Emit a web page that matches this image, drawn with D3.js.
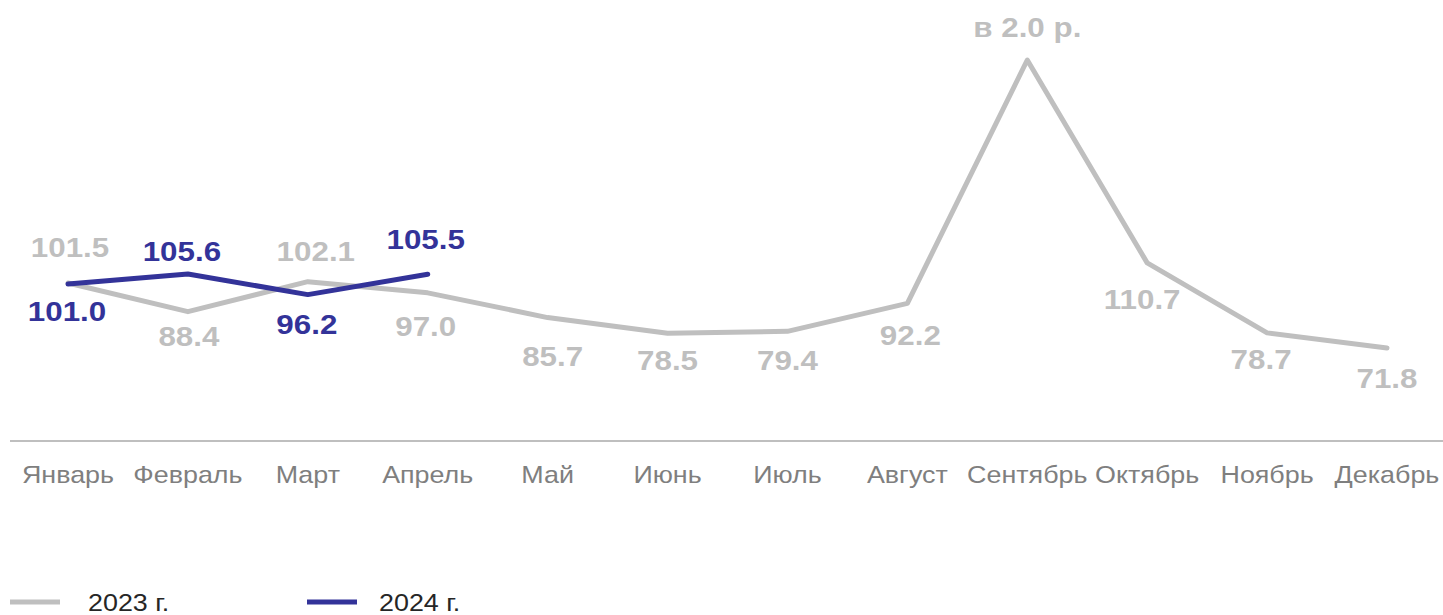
<!DOCTYPE html>
<meta charset="utf-8">
<head>
<script src="https://cdn.jsdelivr.net/npm/d3@7"></script>
<style>
body { margin: 0; background: #fff; }
text { font-family: "Liberation Sans", Arial, sans-serif; }
.lbl { font-weight: bold; font-size: 28px; }
.month { font-size: 24px; fill: #7f7f7f; }
.legend text { font-size: 24px; fill: #262626; }
</style>
</head>
<body>
<script>

// данные
var months = ["Январь", "Февраль", "Март", "Апрель", "Май", "Июнь", "Июль", "Август", "Сентябрь", "Октябрь", "Ноябрь", "Декабрь"];
var values2023 = [101.5, 88.4, 102.1, 97.0, 85.7, 78.5, 79.4, 92.2, 203.4, 110.7, 78.7, 71.8];
var labels2023 = ["101.5", "88.4", "102.1", "97.0", "85.7", "78.5", "79.4", "92.2", "в 2.0 р.", "110.7", "78.7", "71.8"];
var values2024 = [101.0, 105.6, 96.2, 105.5];
var seriesNames = ["2023 г.", "2024 г."];

// смещения подписей (dx, dy от точки)
var off2023 = [[2, -26], [1, 34], [8, -21], [-2, 43], [5, 48], [0, 37], [0, 39], [3, 42], [0, -23], [-5, 46], [-6, 36], [0, 40]];
var off2024 = [[-1, 37], [-6, -13], [-1, 39], [-2, -25]];

var width = 1443, height = 615;
var grey = "#bfbfbf", blue = "#333399";
var sx = 1.12; // текст в оригинале чуть шире

function place(x, y) { return "translate(" + x + "," + y + ") scale(" + sx + ",1)"; }

var svg = d3.select("body").append("svg")
    .attr("width", width)
    .attr("height", height);

var x = d3.scalePoint().domain(months).range([68, 1387]);
var y = d3.scaleLinear().domain([29.3, 203.4]).range([441, 60]);

// ось
svg.append("line")
    .attr("x1", 10).attr("x2", 1443)
    .attr("y1", y(29.3)).attr("y2", y(29.3))
    .attr("stroke", "#bfbfbf").attr("stroke-width", 2);

svg.selectAll("text.month").data(months).enter().append("text")
    .attr("class", "month")
    .attr("transform", function(d) { return place(x(d), 483); })
    .attr("text-anchor", "middle")
    .text(function(d) { return d; });

var line = d3.line()
    .x(function(d, i) { return x(months[i]); })
    .y(function(d) { return y(d); });

svg.append("path").datum(values2023)
    .attr("d", line)
    .attr("fill", "none").attr("stroke", grey)
    .attr("stroke-width", 5).attr("stroke-linejoin", "round").attr("stroke-linecap", "round");

svg.append("path").datum(values2024)
    .attr("d", line)
    .attr("fill", "none").attr("stroke", blue)
    .attr("stroke-width", 5).attr("stroke-linejoin", "round").attr("stroke-linecap", "round");

svg.selectAll("text.l23").data(values2023).enter().append("text")
    .attr("class", "lbl l23")
    .attr("transform", function(d, i) { return place(x(months[i]) + off2023[i][0], y(d) + off2023[i][1]); })
    .attr("text-anchor", "middle")
    .attr("fill", grey)
    .text(function(d, i) { return labels2023[i]; });

svg.selectAll("text.l24").data(values2024).enter().append("text")
    .attr("class", "lbl l24")
    .attr("transform", function(d, i) { return place(x(months[i]) + off2024[i][0], y(d) + off2024[i][1]); })
    .attr("text-anchor", "middle")
    .attr("fill", blue)
    .text(function(d) { return d.toFixed(1); });

// легенда
var legend = svg.append("g").attr("class", "legend");
var items = [{name: seriesNames[0], color: grey, x: 10, tx: 88}, {name: seriesNames[1], color: blue, x: 307, tx: 379}];
items.forEach(function(it) {
  legend.append("line")
      .attr("x1", it.x).attr("x2", it.x + 50)
      .attr("y1", 602).attr("y2", 602)
      .attr("stroke", it.color).attr("stroke-width", 5);
  legend.append("text")
      .attr("transform", place(it.tx, 611))
      .text(it.name);
});

</script>
</body>
